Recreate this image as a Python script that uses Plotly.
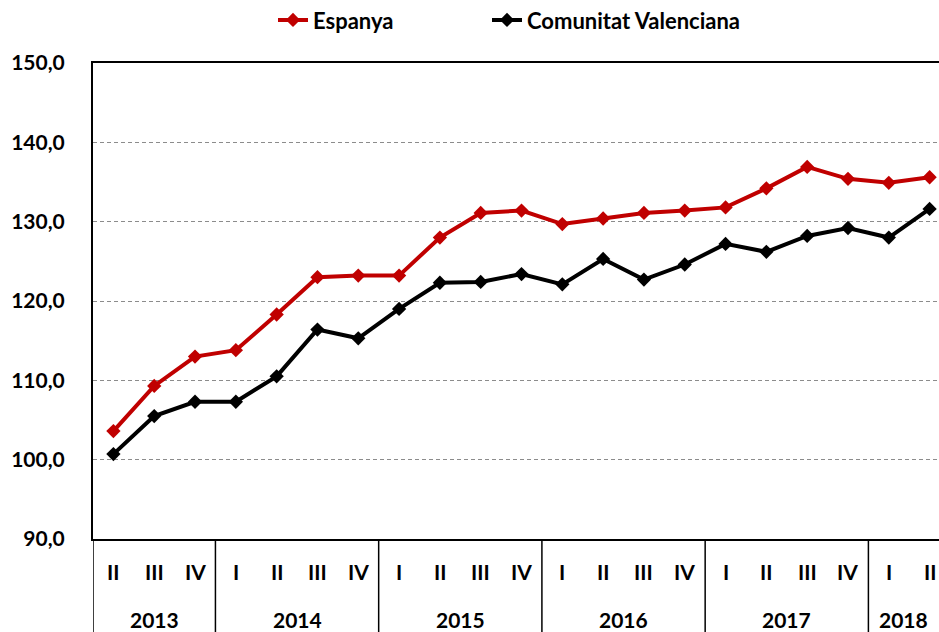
import plotly.graph_objects as go

quarters = ["II", "III", "IV",
            "I", "II", "III", "IV",
            "I", "II", "III", "IV",
            "I", "II", "III", "IV",
            "I", "II", "III", "IV",
            "I", "II"]
years = ["2013", "2014", "2015", "2016", "2017", "2018"]
year_sizes = [3, 4, 4, 4, 4, 2]

espanya = [103.6, 109.3, 113.0, 113.8, 118.3, 123.0, 123.2, 123.2, 128.0, 131.1,
           131.4, 129.7, 130.4, 131.1, 131.4, 131.8, 134.2, 136.9, 135.4, 134.9, 135.6]
valenciana = [100.7, 105.5, 107.3, 107.3, 110.5, 116.4, 115.3, 119.0, 122.3, 122.4,
              123.4, 122.1, 125.3, 122.7, 124.6, 127.2, 126.2, 128.2, 129.2, 128.0, 131.6]

FONT = "Lato"
FS = 21
idx = list(range(len(quarters)))
xmax = 20.23

def bfont(size=FS):
    return dict(family=FONT, size=size, color="black", weight="bold")

fig = go.Figure()
fig.add_trace(go.Scatter(x=idx, y=espanya, name="Espanya", mode="lines+markers",
                         line=dict(color="#C00000", width=4),
                         marker=dict(symbol="diamond", size=11, color="#C00000"),
                         legend="legend"))
fig.add_trace(go.Scatter(x=idx, y=valenciana, name="Comunitat Valenciana", mode="lines+markers",
                         line=dict(color="#000000", width=4),
                         marker=dict(symbol="diamond", size=11, color="#000000"),
                         legend="legend2"))

annotations = []
for i, q in enumerate(quarters):
    annotations.append(dict(x=i, y=-0.069, xref="x", yref="paper", text=q, showarrow=False,
                            font=bfont(), xanchor="center", yanchor="middle"))
start = -0.5
shapes = [dict(type="line", xref="x", yref="paper", x0=-0.5, x1=-0.5, y0=0, y1=-0.25,
               line=dict(color="black", width=1.5))]
for yr, n in zip(years, year_sizes):
    end = start + n
    center = (start + min(end, xmax)) / 2
    annotations.append(dict(x=center, y=-0.17, xref="x", yref="paper", text=yr, showarrow=False,
                            font=bfont(), xanchor="center", yanchor="middle"))
    if end < xmax:
        shapes.append(dict(type="line", xref="x", yref="paper", x0=end, x1=end, y0=0, y1=-0.25,
                           line=dict(color="black", width=1.5)))
    start = end

legend_common = dict(orientation="h", xanchor="left", y=1.090, yanchor="middle",
                     font=bfont(22), bgcolor="rgba(0,0,0,0)")

fig.update_layout(
    width=939, height=632,
    margin=dict(l=93, r=0, t=63, b=93, autoexpand=False),
    paper_bgcolor="white", plot_bgcolor="white",
    separators=", ",
    font=bfont(),
    showlegend=True,
    legend=dict(x=(273 - 93) / 846, **legend_common),
    legend2=dict(x=(487 - 93) / 846, **legend_common),
    xaxis=dict(range=[-0.5, xmax], showticklabels=False, ticks="", showgrid=False,
               showline=True, mirror=True, linecolor="black", linewidth=2, zeroline=False,
               automargin=False),
    yaxis=dict(range=[90, 150], dtick=10, tickformat=".1f", showgrid=True,
               gridcolor="#8c8c8c", griddash="4px,3px", gridwidth=1,
               showline=True, linecolor="black", linewidth=2, zeroline=False,
               ticks="outside", ticklen=0, ticklabelstandoff=22, automargin=False,
               tickfont=bfont()),
    annotations=annotations, shapes=shapes,
)
fig.write_html("out.html", config={"displayModeBar": False},
               post_script="document.body.style.margin='0';document.body.style.overflow='hidden';")
